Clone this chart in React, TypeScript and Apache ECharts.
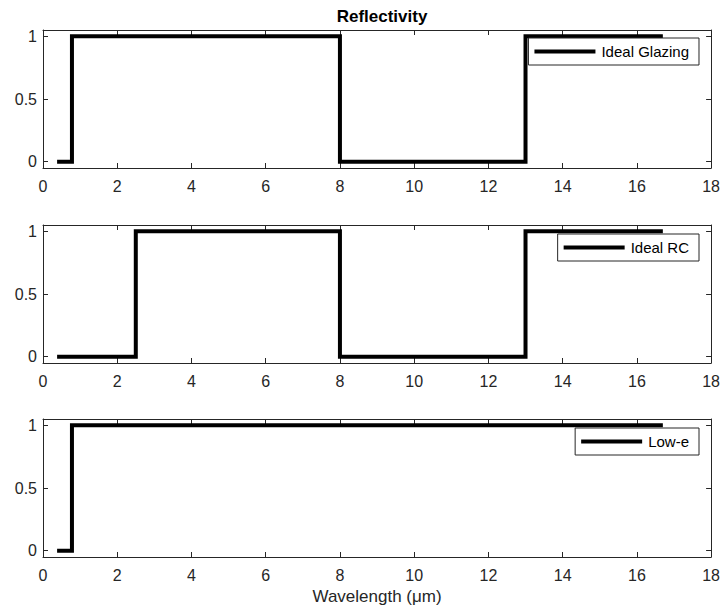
import React, { useEffect, useRef } from "react";
import * as echarts from "echarts";

const titleText = "Reflectivity";
const xAxisName = "Wavelength (μm)";
const seriesNames = ["Ideal Glazing", "Ideal RC", "Low-e"];
const glazingData: number[][] = [[0.38, 0], [0.78, 0], [0.78, 1], [8, 1], [8, 0], [13, 0], [13, 1], [16.7, 1]];
const rcData: number[][] = [[0.38, 0], [2.5, 0], [2.5, 1], [8, 1], [8, 0], [13, 0], [13, 1], [16.7, 1]];
const lowEData: number[][] = [[0.38, 0], [0.78, 0], [0.78, 1], [16.7, 1]];
const yTicks = [0, 0.5, 1];
const xMin = 0;
const xMax = 18;
const xStep = 2;

const allData = [glazingData, rcData, lowEData];

export default function App() {
  const ref = useRef<HTMLDivElement>(null);
  useEffect(() => {
    if (!ref.current) return;
    const chart = echarts.init(ref.current, undefined, { renderer: "svg" });
    const axisColor = "#262626";
    const font = "Liberation Sans, Arial";
    const gridTops = [30, 225, 419];
    const gridH = 138;
    const legendRects = [
      { top: 38, right: 24 },
      { top: 234, right: 24 },
      { top: 428, right: 24 },
    ];
    const grids = gridTops.map((t) => ({ left: 43, right: 11, top: t, height: gridH, containLabel: false }));
    const xAxes: any[] = [];
    const yAxes: any[] = [];
    gridTops.forEach((_, i) => {
      const base = {
        gridIndex: i,
        type: "value",
        min: xMin,
        max: xMax,
        interval: xStep,
        splitLine: { show: false },
        axisLine: { show: true, onZero: false, lineStyle: { color: axisColor, width: 1 } },
        axisTick: { show: true, inside: true, length: 5, lineStyle: { color: axisColor } },
      };
      xAxes.push({
        ...base,
        position: "bottom",
        axisLabel: { show: true, color: axisColor, fontSize: 16, fontFamily: font, margin: 10 },
        ...(i === 2
          ? {
              name: xAxisName,
              nameLocation: "middle",
              nameGap: 31,
              nameTextStyle: { color: axisColor, fontSize: 17, fontFamily: font },
            }
          : {}),
      });
      xAxes.push({ ...base, position: "top", axisLabel: { show: false } });
      const ybase = {
        gridIndex: i,
        type: "value",
        min: -0.05,
        max: 1.05,
        splitLine: { show: false },
        axisLine: { show: true, onZero: false, lineStyle: { color: axisColor, width: 1 } },
        axisTick: { show: true, inside: true, length: 5, customValues: yTicks, lineStyle: { color: axisColor } },
      };
      yAxes.push({
        ...ybase,
        position: "left",
        axisLabel: {
          show: true,
          customValues: yTicks,
          color: axisColor,
          fontSize: 16,
          fontFamily: font,
          margin: 6,
          formatter: (v: number) => String(v),
        },
      });
      yAxes.push({ ...ybase, position: "right", axisLabel: { show: false } });
    });
    const series = allData.map((d, i) => ({
      name: seriesNames[i],
      type: "line",
      xAxisIndex: i * 2,
      yAxisIndex: i * 2,
      data: d,
      showSymbol: false,
      symbol: "none",
      lineStyle: { color: "#000", width: 4, cap: "butt", join: "miter" },
      itemStyle: { color: "#000" },
      clip: false,
    }));
    const legends = seriesNames.map((n, i) => ({
      data: [n],
      top: legendRects[i].top,
      right: legendRects[i].right,
      orient: "horizontal",
      icon: "rect",
      itemWidth: 61,
      itemHeight: 4,
      itemGap: 0,
      borderColor: axisColor,
      borderWidth: 1,
      backgroundColor: "#fff",
      padding: [6, 10, 6, 6],
      selectedMode: false,
      textStyle: { color: "#000", fontSize: 15, fontFamily: font, padding: [0, 0, 0, 1] },
    }));
    chart.setOption({
      animation: false,
      backgroundColor: "#fff",
      title: {
        text: titleText,
        left: 377,
        textAlign: "center",
        top: 3,
        textStyle: { fontSize: 17, fontWeight: "bold", color: "#000", fontFamily: font },
      },
      grid: grids,
      xAxis: xAxes,
      yAxis: yAxes,
      legend: legends,
      series,
    });
    return () => chart.dispose();
  }, []);
  return <div ref={ref} style={{ width: 723, height: 615, position: "absolute", left: 0, top: 0 }} />;
}
